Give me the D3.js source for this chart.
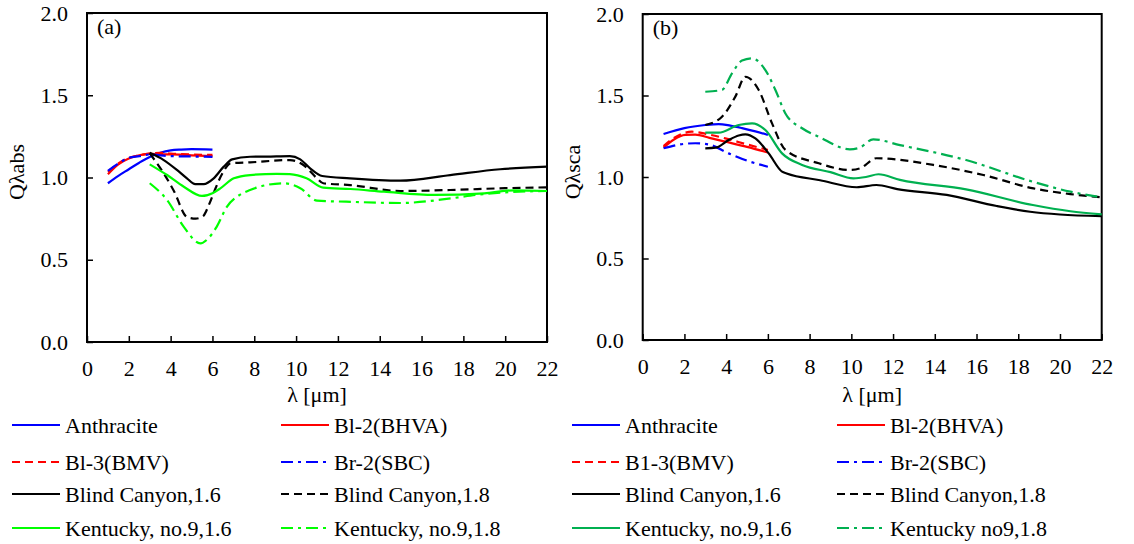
<!DOCTYPE html>
<html><head><meta charset="utf-8">
<script src="https://cdn.jsdelivr.net/npm/d3@7"></script>
</head><body style="margin:0;background:#fff">
<svg id="c" width="1134" height="544" style="display:block;font-family:'Liberation Serif',serif" font-family="Liberation Serif"></svg>
<script>
// ---- data ----
const xTicks = [0,2,4,6,8,10,12,14,16,18,20,22];
const yTicks = [0,0.5,1.0,1.5,2.0];
// panel (a): Q lambda abs   [lambda, Q]
const anthraciteA = [[1,0.965],[1.5,1.01],[2,1.05],[2.5,1.09],[3,1.125],[3.5,1.15],[4,1.165],[4.5,1.17],[5,1.172],[6,1.17]];
const bl2A = [[1,1.02],[1.5,1.08],[2,1.115],[2.5,1.135],[3,1.145],[3.5,1.14],[4,1.14],[5,1.135],[6,1.13]];
const bl3A = [[1,1.035],[1.5,1.085],[2,1.12],[2.5,1.135],[3,1.145],[3.5,1.15],[4,1.145],[5,1.14],[6,1.137]];
const br2A = [[1,1.04],[1.5,1.085],[2,1.12],[2.5,1.13],[3,1.14],[3.5,1.135],[4,1.13],[5,1.128],[6,1.125]];
const bc16A = [[3,1.15],[3.67,1.106],[4.3,1.046],[4.78,0.995],[5.18,0.96],[5.58,0.96],[6.06,0.995],[6.54,1.066],[6.94,1.11],[7.8,1.126],[8.6,1.127],[9.7,1.13],[10.2,1.11],[10.67,1.056],[11.25,1.009],[12.58,0.995],[14.98,0.981],[17.37,1.015],[19.76,1.05],[22,1.066]];
const bc18A = [[3,1.147],[3.67,1.025],[4.15,0.92],[4.78,0.76],[5.2,0.75],[5.55,0.765],[5.85,0.84],[6.1,0.92],[6.5,1.03],[6.86,1.086],[7.8,1.092],[9.7,1.106],[10.35,1.076],[11,0.995],[11.3,0.965],[12.58,0.954],[14.98,0.918],[17.37,0.924],[20,0.935],[22,0.94]];
const ky16A = [[3,1.08],[3.83,1.015],[4.63,0.944],[5.5,0.888],[6.0,0.905],[6.38,0.934],[7.02,0.995],[7.8,1.015],[9.07,1.022],[9.7,1.02],[10.5,0.995],[11.3,0.938],[12.6,0.93],[14.2,0.914],[16.6,0.894],[19,0.904],[20.4,0.922],[22,0.918]];
const ky18A = [[3,0.965],[3.83,0.863],[4.63,0.70],[5.42,0.60],[5.8,0.63],[6.2,0.70],[6.68,0.82],[7.3,0.894],[7.8,0.924],[9.4,0.965],[10.2,0.935],[11,0.859],[12.4,0.853],[15,0.845],[17.4,0.873],[18.6,0.894],[20,0.91],[22,0.918]];
// panel (b): Q lambda sca
const anthraciteB = [[1,1.264],[2,1.3],[3,1.319],[3.64,1.325],[4.2,1.315],[4.76,1.3],[5.4,1.28],[6,1.258]];
const bl2B = [[1,1.18],[1.5,1.23],[2.04,1.258],[2.52,1.26],[3.2,1.24],[3.96,1.217],[5,1.185],[6,1.15]];
const bl3B = [[1,1.19],[1.5,1.24],[2.36,1.278],[3.2,1.26],[3.96,1.237],[5,1.2],[6,1.166]];
const br2B = [[1,1.176],[1.8,1.2],[2.52,1.207],[3.15,1.2],[4.12,1.145],[5,1.1],[6,1.063]];
const bc16B = [[3,1.176],[3.5,1.18],[4.12,1.227],[4.6,1.255],[4.92,1.262],[5.4,1.237],[6.04,1.145],[6.68,1.033],[6.9,1.022],[8.5,0.98],[10.26,0.937],[11.2,0.951],[12.2,0.926],[14.57,0.89],[16.97,0.822],[18.57,0.787],[20,0.77],[22,0.76]];
const ky16B = [[3,1.272],[3.64,1.272],[4.6,1.319],[5.24,1.329],[5.88,1.288],[6.68,1.145],[7.64,1.074],[9,1.03],[10.1,0.992],[10.7,1.0],[11.3,1.017],[12.33,0.982],[15.5,0.924],[18.7,0.828],[20.5,0.79],[22,0.771]];
const bc18B = [[3,1.319],[3.8,1.37],[4.44,1.493],[4.92,1.615],[5.56,1.534],[6.2,1.329],[6.84,1.166],[8.44,1.084],[9.93,1.043],[10.42,1.053],[11.2,1.115],[13.93,1.074],[16.33,1.012],[18.73,0.93],[20.5,0.895],[22,0.875]];
const ky18B = [[3,1.523],[3.8,1.534],[4.28,1.636],[4.76,1.714],[5.24,1.728],[5.88,1.656],[6.36,1.534],[6.84,1.39],[7.64,1.299],[8.44,1.247],[9.93,1.17],[10.4,1.18],[11.05,1.231],[12.33,1.196],[15.5,1.104],[18.7,0.971],[20.5,0.91],[22,0.875]];

const legendA = ["Anthracite","Bl-2(BHVA)","Bl-3(BMV)","Br-2(SBC)","Blind Canyon,1.6","Blind Canyon,1.8","Kentucky, no.9,1.6","Kentucky, no.9,1.8"];
const legendB = ["Anthracite","Bl-2(BHVA)","B1-3(BMV)","Br-2(SBC)","Blind Canyon,1.6","Blind Canyon,1.8","Kentucky, no.9,1.6","Kentucky no9,1.8"];

// ---- styles ----
const DASH = "8,5", DASHDOT = "12,5,3,5";
const stylesA = [
  {c:"#0000ff",d:null},{c:"#ff0000",d:null},{c:"#ff0000",d:DASH},{c:"#0000ff",d:DASHDOT},
  {c:"#000000",d:null},{c:"#000000",d:DASH},{c:"#00ff00",d:null},{c:"#00ff00",d:DASHDOT}];
const stylesB = stylesA.map((s,i)=> i>=6 ? {c:"#00b050",d:s.d} : s);

const svg = d3.select("#c");
svg.append("rect").attr("width",1134).attr("height",544).attr("fill","#fff");

function txt(sel){
  return sel.attr("font-family","Liberation Serif").attr("font-size",22)
    .style("font-family","'Liberation Serif', serif").style("font-size","22px").attr("fill","#000");
}

function panel(cfg){
  const x = d3.scaleLinear().domain([0,22]).range([cfg.x0,cfg.x1]);
  const y = d3.scaleLinear().domain([0,2]).range([cfg.y0,cfg.y1]);
  const g = svg.append("g");
  const xa = g.append("g").attr("transform",`translate(0,${cfg.y0})`)
    .call(d3.axisBottom(x).tickValues(xTicks).tickSizeInner(-6).tickSizeOuter(0).tickPadding(18).tickFormat(d3.format("d")));
  const ya = g.append("g").attr("transform",`translate(${cfg.x0},0)`)
    .call(d3.axisLeft(y).tickValues(yTicks).tickSizeInner(-6).tickSizeOuter(0).tickPadding(cfg.yPad).tickFormat(d3.format(".1f")));
  [xa,ya].forEach(a=>{
    a.attr("font-family",null).attr("font-size",null);
    a.select(".domain").remove();
    a.selectAll("line").attr("stroke","#000").attr("stroke-width",1.5);
    txt(a.selectAll("text"));
  });
  g.append("rect").attr("x",cfg.x0).attr("y",cfg.y1).attr("width",cfg.x1-cfg.x0).attr("height",cfg.y0-cfg.y1)
    .attr("fill","none").attr("stroke","#000").attr("stroke-width",2);
  const line = d3.line().x(d=>x(d[0])).y(d=>y(d[1])).curve(d3.curveMonotoneX);
  cfg.series.forEach((s,i)=>{
    g.append("path").attr("d",line(s)).attr("fill","none").attr("stroke",cfg.styles[i].c)
      .attr("stroke-width",2.2).attr("stroke-dasharray",cfg.styles[i].d);
  });
  txt(g.append("text").attr("x",cfg.x0+10).attr("y",cfg.y1+21)).text(cfg.tag);
  txt(g.append("text").attr("x",(cfg.x0+cfg.x1)/2).attr("y",402).attr("text-anchor","middle")).text("λ [μm]");
  txt(g.append("text").attr("transform",`translate(${cfg.x0-63},${172}) rotate(-90)`).attr("text-anchor","middle")).text(cfg.ytitle);
  const rows = [425,462,494,528];
  cfg.legend.forEach((t,i)=>{
    const r = Math.floor(i/2), col = i%2;
    const lx = cfg.legX[col], ly = rows[r];
    svg.append("line").attr("x1",lx).attr("x2",lx+48).attr("y1",ly).attr("y2",ly)
      .attr("stroke",cfg.styles[i].c).attr("stroke-width",2.2).attr("stroke-dasharray",cfg.styles[i].d);
    txt(svg.append("text").attr("x",lx+53).attr("y",ly+8)).text(t);
  });
}

panel({x0:87,x1:547,y0:342,y1:13,tag:"(a)",ytitle:"Qλabs",yPad:19,
  series:[anthraciteA,bl2A,bl3A,br2A,bc16A,bc18A,ky16A,ky18A],styles:stylesA,legend:legendA,legX:[12,281]});
panel({x0:642.7,x1:1101.7,y0:340,y1:14,tag:"(b)",ytitle:"Qλsca",yPad:19,
  series:[anthraciteB,bl2B,bl3B,br2B,bc16B,bc18B,ky16B,ky18B],styles:stylesB,legend:legendB,legX:[572,837]});
</script>
</body></html>
